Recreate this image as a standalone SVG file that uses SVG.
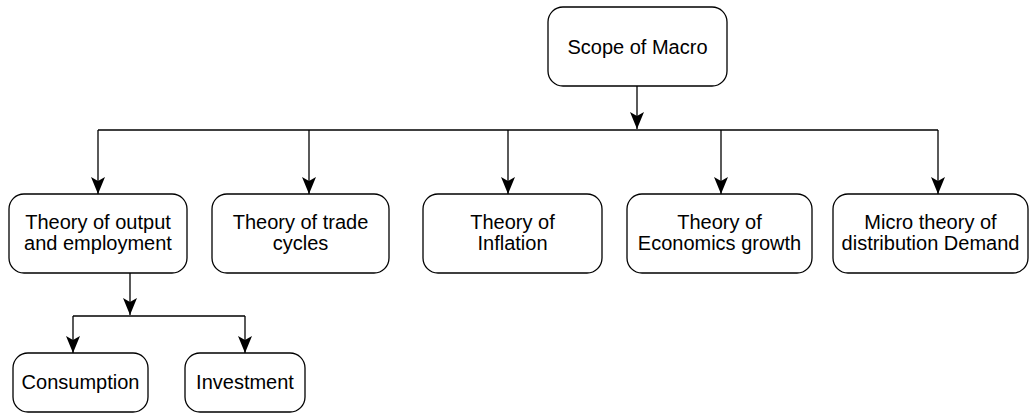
<svg xmlns="http://www.w3.org/2000/svg" width="1029" height="415" viewBox="0 0 1029 415">
<style>
.box{fill:#fff;stroke:#000;stroke-width:1.3}
.lbl{font-family:"Liberation Sans",Arial,sans-serif;font-size:20px;fill:#000;text-anchor:middle}
.edge{fill:none;stroke:#000;stroke-width:1.3}
</style>
<defs>
<marker id="arr" viewBox="-18 -8 19 16" markerWidth="19" markerHeight="16" refX="0" refY="0" orient="auto" markerUnits="userSpaceOnUse">
<path d="M0,0 L-17,-7 L-13,0 L-17,7 Z" fill="#000"/>
</marker>
</defs>
<g id="connectors">
<path class="edge" d="M637,86 L637,129" marker-end="url(#arr)"/>
<path class="edge" d="M98,130 L938,130"/>
<path class="edge" d="M98,130 L98,194" marker-end="url(#arr)"/>
<path class="edge" d="M309,130 L309,194" marker-end="url(#arr)"/>
<path class="edge" d="M508,130 L508,194" marker-end="url(#arr)"/>
<path class="edge" d="M721,130 L721,194" marker-end="url(#arr)"/>
<path class="edge" d="M938,130 L938,194" marker-end="url(#arr)"/>
<path class="edge" d="M130,273 L130,315" marker-end="url(#arr)"/>
<path class="edge" d="M73,316 L245,316"/>
<path class="edge" d="M73,316 L73,353" marker-end="url(#arr)"/>
<path class="edge" d="M245,316 L245,353" marker-end="url(#arr)"/>
</g>
<g id="scope">
<rect class="box" x="548" y="7" width="179" height="79" rx="15" ry="15"/>
<text class="lbl" x="637.5" y="54">Scope of Macro</text>
</g>
<g id="output">
<rect class="box" x="9" y="194" width="178" height="79" rx="15" ry="15"/>
<text class="lbl" x="98" y="229">Theory of output</text>
<text class="lbl" x="98" y="250">and employment</text>
</g>
<g id="trade">
<rect class="box" x="212" y="194" width="177" height="79" rx="15" ry="15"/>
<text class="lbl" x="300.5" y="229">Theory of trade</text>
<text class="lbl" x="300.5" y="250">cycles</text>
</g>
<g id="inflation">
<rect class="box" x="423" y="194" width="179" height="79" rx="15" ry="15"/>
<text class="lbl" x="512.5" y="229">Theory of</text>
<text class="lbl" x="512.5" y="250">Inflation</text>
</g>
<g id="growth">
<rect class="box" x="627" y="194" width="185" height="79" rx="15" ry="15"/>
<text class="lbl" x="719.5" y="229">Theory of</text>
<text class="lbl" x="719.5" y="250">Economics growth</text>
</g>
<g id="distribution">
<rect class="box" x="833" y="194" width="195" height="79" rx="15" ry="15"/>
<text class="lbl" x="930.5" y="229">Micro theory of</text>
<text class="lbl" x="930.5" y="250">distribution Demand</text>
</g>
<g id="consumption">
<rect class="box" x="13" y="353" width="135" height="59" rx="15" ry="15"/>
<text class="lbl" x="80.5" y="389">Consumption</text>
</g>
<g id="investment">
<rect class="box" x="185" y="353" width="120" height="59" rx="15" ry="15"/>
<text class="lbl" x="245" y="389">Investment</text>
</g>
</svg>
